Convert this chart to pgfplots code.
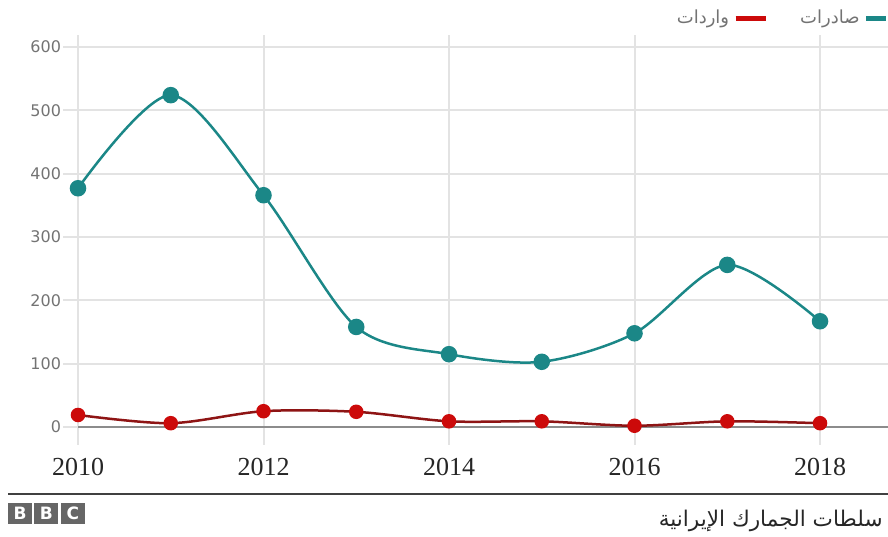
\documentclass[border=0pt]{standalone}
\usepackage{fontspec}
\setmainfont{Liberation Serif}
\newfontfamily\dejavu{DejaVu Sans}
\newfontfamily\arabicfont[Script=Arabic]{DejaVu Sans}
\usepackage{pgfplots}
\pgfplotsset{compat=1.18}
\TeXXeTstate=1
\definecolor{teal1}{HTML}{1B8787}
\definecolor{red1}{HTML}{CC0A0A}
\definecolor{redline}{HTML}{8E1414}
\definecolor{gridc}{HTML}{E3E3E3}
\begin{document}
\begin{tikzpicture}
\useasboundingbox (0,0) rectangle (444pt,268pt);
\begin{axis}[
 at={(39pt,45.5pt)}, anchor=south west, scale only axis,
 width=405pt, height=205pt,
 xmin=2010, xmax=2018.733, ymin=-28.4, ymax=619,
 axis line style={draw=none},
 xtick={2010,2012,2014,2016,2018},
 ytick={0,100,...,600},
 xmajorgrids, ymajorgrids,
 grid style={gridc, line width=1pt},
 major x tick style={draw=none},
 ytick style={draw=gridc, line width=1pt},
 tick align=outside,
 major tick length=7.5pt,
 xtick pos=bottom, ytick pos=left,
 /pgf/number format/assume math mode=true,
 /pgf/number format/1000 sep={},
 xticklabel style={font=\fontsize{13}{15}\selectfont, text=black!85, yshift=4.5pt},
 yticklabel style={font=\dejavu\fontsize{8}{9}\selectfont, text=black!55, xshift=2.5pt},
 legend style={at={(1,1)}, anchor=south east, draw=none, fill=none, legend columns=2,
   font=\arabicfont\fontsize{9}{10}\selectfont, text=black!55, yshift=0pt, xshift=3.5pt,
   /tikz/every even column/.append style={column sep=14pt}},
 legend plot pos=right,
 legend cell align=right,
]
\draw[black!45, line width=0.8pt] (axis cs:2010,0) -- (axis cs:2018.733,0);
\addplot[redline, line width=1.25pt, smooth, mark=*, mark size=3pt,
  mark options={fill=red1, draw=red1},
  legend image code/.code={\draw[red1, line width=2.5pt] (0pt,0pt) -- (15pt,0pt);}]
  coordinates {(2010,19) (2011,6) (2012,25) (2013,24) (2014,9) (2015,9) (2016,2) (2017,9) (2018,6)};
\addlegendentry{\beginR واردات\endR}
\addplot[teal1, line width=1.25pt, smooth, mark=*, mark size=3.5pt,
  mark options={fill=teal1, draw=teal1},
  legend image code/.code={\draw[teal1, line width=2.5pt] (0pt,0pt) -- (10pt,0pt);}]
  coordinates {(2010,377) (2011,524) (2012,366) (2013,158) (2014,115) (2015,103) (2016,148) (2017,256) (2018,167)};
\addlegendentry{\beginR صادرات\endR}
\end{axis}
\draw[black!75, line width=1pt] (4pt,21pt) -- (444pt,21pt);
\foreach \l [count=\i] in {B,B,C}
  \node[fill=black!60, text=white, minimum width=12pt, minimum height=10.5pt, inner sep=0pt,
    font=\dejavu\bfseries\fontsize{8.5}{9}\selectfont] at ({4pt+6pt+(\i-1)*13.2pt}, 11.5pt) {\l};
\node[anchor=east, inner sep=0pt, font=\arabicfont\fontsize{10.8}{12}\selectfont, text=black!85] at (441.5pt, 7.5pt) {\beginR سلطات الجمارك الإيرانية\endR};
\end{tikzpicture}
\end{document}
